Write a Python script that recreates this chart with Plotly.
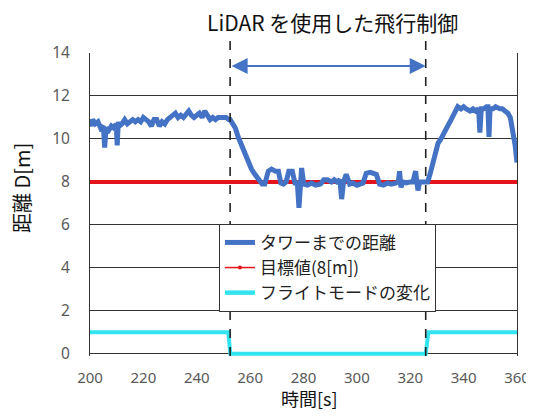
import plotly.graph_objects as go

# ---- data ----
t_dist = [200, 200.5, 201, 202, 203, 204, 205, 205.5, 206, 207, 208, 209, 209.8, 210.2, 210.6,
          211, 212, 213, 214, 215, 216, 217, 218, 219, 220, 221, 222, 223, 224, 225, 226, 227,
          228, 229, 230, 231, 232, 233, 234, 235, 236, 237, 238, 239, 240, 241, 242, 243, 244,
          245, 246, 247, 248, 249, 250, 251, 252,
          252.5, 253.5, 254.5, 255.5, 256.5, 257.5, 258.5, 259.5, 260.5, 261.5, 262.5, 263.5,
          264.5, 265.5, 266.8, 268, 269.5, 270.6, 271.5, 272.5, 273.5, 274.5, 275.8, 276.8, 277.7,
          278.3, 278.8, 279.3, 280.1, 281.5, 283, 284.5, 286.4, 287.6, 289, 290.5, 291.5, 292.5,
          293.6, 294.3, 295, 296, 297.3, 298.5, 300, 301.2, 302.3, 303.5, 305, 306.2, 307.3,
          308.5, 310, 311.5, 313, 314.7, 315.5, 316, 316.5, 317.2, 318.5, 320, 321, 322, 322.9,
          323.5, 324.1, 325, 326,
          326.5, 327.5, 328.6, 329.5, 330.4, 331.5, 333, 334, 334.9, 336, 336.8, 337.8, 339, 340,
          341, 342.4, 343.5, 344.5, 345.6, 346.1, 346.6, 347.5, 348.6, 349.1, 349.5, 349.9, 351,
          352, 353.6, 354.5, 355.5, 356.6, 357.5, 358.5, 359.3, 360]
d_dist = [10.8, 10.6, 10.9, 10.7, 10.8, 10.5, 10.6, 9.6, 10.5, 10.4, 10.6, 10.5, 10.7, 9.7, 10.8,
          10.6, 10.7, 10.9, 10.7, 10.8, 10.9, 10.8, 10.9, 10.8, 11.0, 10.9, 10.8, 10.6, 10.9, 10.9,
          10.6, 10.8, 10.7, 10.9, 11.0, 11.1, 11.2, 11.0, 11.1, 11.0, 11.2, 11.3, 11.1, 11.0, 11.1,
          11.2, 11.0, 11.3, 11.1, 10.9, 11.0, 10.9, 11.0, 11.0, 11.0, 11.0, 10.9,
          10.9, 10.7, 10.5, 10.1, 9.8, 9.4, 9.1, 8.8, 8.6, 8.4, 8.2, 8.0,
          7.9, 7.9, 8.5, 8.6, 8.5, 8.5, 7.95, 7.9, 8.0, 8.5, 8.5, 7.95, 7.95,
          6.8, 7.9, 8.65, 7.9, 7.85, 7.95, 7.85, 7.9, 8.1, 8.1, 8.0, 8.1, 8.0,
          8.1, 7.2, 8.0, 8.35, 7.9, 7.95, 7.85, 7.9, 7.95, 8.4, 8.45, 8.4, 8.35,
          7.9, 7.85, 7.95, 7.9, 7.95, 8.0, 8.5, 7.75, 8.0, 7.95, 8.0, 8.0, 8.5, 7.6,
          8.0, 8.0, 7.95, 7.95,
          8.0, 8.4, 8.9, 9.3, 9.8, 10.0, 10.3, 10.6, 10.8, 11.1, 11.3, 11.5, 11.4, 11.5,
          11.4, 11.3, 11.4, 11.3, 11.4, 10.3, 11.4, 11.4, 11.5, 11.5, 10.1, 11.4, 11.4,
          11.5, 11.4, 11.4, 11.3, 11.2, 11.0, 10.3, 9.7, 8.9]

t_target = [200, 360]
d_target = [8, 8]

t_mode = [200, 251.8, 252.6, 325.8, 326.8, 360]
v_mode = [1, 1, 0, 0, 1, 1]

lidar_start = 252.5
lidar_end = 325.8
x_range = [200, 360]
y_ticks = [0, 2, 4, 6, 8, 10, 12, 14]
x_ticks = [200, 220, 240, 260, 280, 300, 320, 340, 360]

names = ["タワーまでの距離", "目標値(8[m])", "フライトモードの変化"]
title_text = "LiDAR を使用した飛行制御"
xlabel = "時間[s]"
ylabel = "距離 D[m]"

BLUE = "#4472C4"
RED = "#E3141B"
CYAN = "#33E3EF"
JP = "Noto Sans CJK JP"

fig = go.Figure()
fig.add_trace(go.Scatter(x=t_target, y=d_target, mode="lines", showlegend=False,
                         line=dict(color=RED, width=4), hoverinfo="skip"))
fig.add_trace(go.Scatter(x=t_mode, y=v_mode, mode="lines", showlegend=False,
                         line=dict(color=CYAN, width=4)))
fig.add_trace(go.Scatter(x=t_dist, y=d_dist, mode="lines", name=names[0],
                         line=dict(color=BLUE, width=5)))
# legend-only entries
fig.add_trace(go.Scatter(x=[None], y=[None], mode="lines+markers", name=names[1],
                         line=dict(color=RED, width=1.5), marker=dict(color=RED, size=4)))
fig.add_trace(go.Scatter(x=[None], y=[None], mode="lines", name=names[2],
                         line=dict(color=CYAN, width=4.5)))

span = x_range[1] - x_range[0]
for tv in (lidar_start, lidar_end):
    px = (tv - x_range[0]) / span
    fig.add_shape(type="line", xref="paper", yref="paper", x0=px, x1=px, y0=0.0, y1=1.06,
                  line=dict(color="#222222", width=1.6, dash="dash"), layer="above")

fig.add_annotation(x=lidar_end, y=13.4, ax=lidar_start, ay=13.4, xref="x", yref="y",
                   axref="x", ayref="y", text="", showarrow=True, arrowhead=2,
                   arrowside="end+start", arrowsize=1.6, arrowwidth=2, arrowcolor=BLUE)
fig.add_annotation(x=0.569, y=1.103, xref="paper", yref="paper", text=title_text,
                   showarrow=False, font=dict(family=JP, size=21, color="#111111"),
                   xanchor="center", yanchor="middle")
fig.add_annotation(x=0.515, y=-0.138, xref="paper", yref="paper", text=xlabel,
                   showarrow=False, font=dict(family=JP, size=18, color="#111111"),
                   xanchor="center", yanchor="middle")
fig.add_annotation(x=-0.159, y=0.555, xref="paper", yref="paper", text=ylabel,
                   showarrow=False, textangle=-90,
                   font=dict(family=JP, size=20, color="#111111"),
                   xanchor="center", yanchor="middle")

# page body has an 8px margin: figure is placed at (8, 8)
fig.update_layout(
    width=526, height=403,
    margin=dict(l=82, r=17, t=45, b=55, autoexpand=False),
    paper_bgcolor="white", plot_bgcolor="white",
    font=dict(family=JP, color="#111111"),
    showlegend=True,
    legend=dict(x=0.302, y=0.436, xanchor="left", yanchor="top",
                bgcolor="white", bordercolor="#333333", borderwidth=1,
                font=dict(family=JP, size=17, color="#222222"),
                tracegroupgap=0, itemwidth=30),
    xaxis=dict(range=x_range, tickvals=x_ticks, showgrid=False, zeroline=False,
               showline=False, ticks="", ticklabelstandoff=11, automargin=False,
               ticklabeloverflow="allow",
               tickfont=dict(family="Noto Sans", size=15, color="#595959"),
               fixedrange=True),
    yaxis=dict(range=[-0.1, 14], tickvals=y_ticks, showgrid=True, gridcolor="#333333",
               gridwidth=1, zeroline=False, showline=True, mirror=True,
               linecolor="#333333", linewidth=1, ticks="", ticklabelstandoff=16,
               automargin=False,
               tickfont=dict(family="Noto Sans", size=15.5, color="#595959"),
               layer="below traces"),
)

fig.write_html("out.html")
